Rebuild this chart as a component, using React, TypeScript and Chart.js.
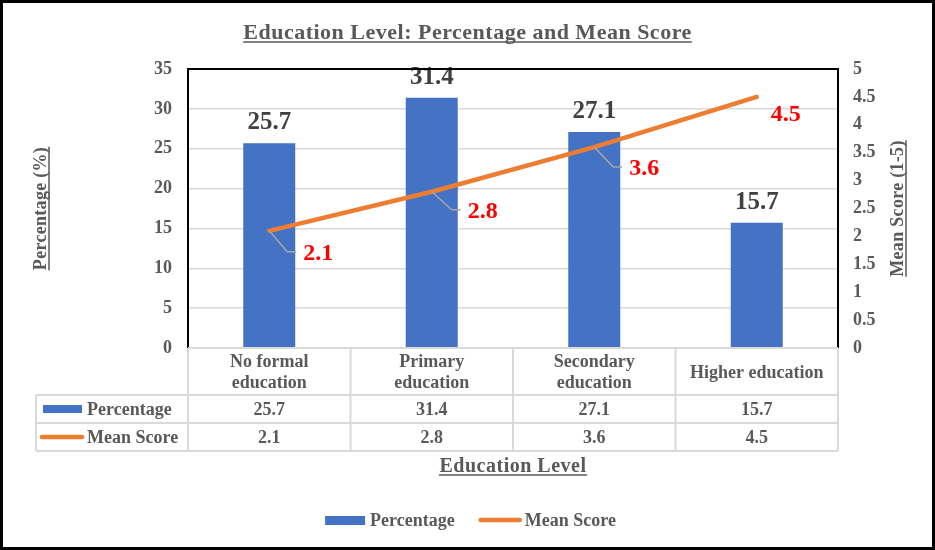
import React, { useEffect, useRef } from 'react';
import { Chart, registerables } from 'chart.js';

Chart.register(...registerables);

const categories = [['No formal', 'education'], ['Primary', 'education'], ['Secondary', 'education'], ['Higher education']];
const percentage = [25.7, 31.4, 27.1, 15.7];
const meanScore = [2.1, 2.8, 3.6, 4.5];
const percentTicks = [0, 5, 10, 15, 20, 25, 30, 35];
const scoreTicks = [0, 0.5, 1, 1.5, 2, 2.5, 3, 3.5, 4, 4.5, 5];

const FONT = "'Liberation Serif', 'Times New Roman', serif";
const BLUE = '#4472C4';
const ORANGE = '#ED7D31';
const GREY_TEXT = '#595959';
const DARK_TEXT = '#404040';
const GRID = '#D9D9D9';

// where the red labels sit relative to their point (the last one has no leader line)
const scoreLabelShift = [
  { dx: 34, dy: 21, leader: true },
  { dx: 36, dy: 18, leader: true },
  { dx: 35, dy: 20, leader: true },
  { dx: 14, dy: 16, leader: false },
];

const font = (size: number) => `bold ${size}px ${FONT}`;

const underlinedText = (ctx: any, text: string, x: number, y: number, size: number, spacing = 0) => {
  ctx.font = font(size);
  ctx.letterSpacing = `${spacing}px`;
  ctx.fillStyle = GREY_TEXT;
  ctx.textAlign = 'center';
  ctx.textBaseline = 'alphabetic';
  ctx.fillText(text, x, y);
  const w = ctx.measureText(text).width;
  ctx.letterSpacing = '0px';
  ctx.strokeStyle = GREY_TEXT;
  ctx.lineWidth = 1.5;
  ctx.beginPath();
  ctx.moveTo(x - w / 2, y + 3);
  ctx.lineTo(x + w / 2, y + 3);
  ctx.stroke();
};

const decorPlugin = {
  id: 'decor',
  beforeDraw(chart: any) {
    const ctx = chart.ctx;
    ctx.save();
    ctx.fillStyle = '#ffffff';
    ctx.fillRect(0, 0, chart.width, chart.height);
    ctx.restore();
  },
  afterDatasetsDraw(chart: any) {
    const ctx: CanvasRenderingContext2D = chart.ctx;
    ctx.save();
    // bar value labels
    const bars = chart.getDatasetMeta(0).data;
    ctx.font = font(25);
    ctx.fillStyle = DARK_TEXT;
    ctx.textAlign = 'center';
    ctx.textBaseline = 'alphabetic';
    bars.forEach((b: any, i: number) => {
      ctx.fillText(String(percentage[i]), b.x, b.y - 14);
    });
    // line value labels with leader lines
    const pts = chart.getDatasetMeta(1).data;
    pts.forEach((p: any, i: number) => {
      const s = scoreLabelShift[i];
      if (s.leader) {
        ctx.strokeStyle = '#A6A6A6';
        ctx.lineWidth = 1.5;
        ctx.beginPath();
        ctx.moveTo(p.x, p.y);
        ctx.lineTo(p.x + s.dx - 16, p.y + s.dy);
        ctx.lineTo(p.x + s.dx - 7, p.y + s.dy);
        ctx.stroke();
      }
      ctx.font = font(24);
      ctx.fillStyle = '#FF0000';
      ctx.textAlign = 'left';
      ctx.textBaseline = 'alphabetic';
      ctx.fillText(String(meanScore[i]), p.x + s.dx, p.y + s.dy + 8);
    });
    ctx.restore();
  },
  afterDraw(chart: any) {
    const ctx: CanvasRenderingContext2D = chart.ctx;
    const { left, right, top, bottom } = chart.chartArea;
    ctx.save();

    // plot frame (left, top, right)
    ctx.strokeStyle = '#000000';
    ctx.lineWidth = 2;
    ctx.beginPath();
    ctx.moveTo(left, bottom);
    ctx.lineTo(left, top);
    ctx.lineTo(right, top);
    ctx.lineTo(right, bottom);
    ctx.stroke();

    // title and axis titles
    underlinedText(ctx, 'Education Level: Percentage and Mean Score', chart.width / 2, 39, 22, 0.5);
    ctx.save();
    ctx.translate(46, (top + bottom) / 2);
    ctx.rotate(-Math.PI / 2);
    underlinedText(ctx, 'Percentage (%)', 0, 0, 18, 0.3);
    ctx.restore();
    ctx.save();
    ctx.translate(903, (top + bottom) / 2);
    ctx.rotate(-Math.PI / 2);
    underlinedText(ctx, 'Mean Score (1-5)', 0, 0, 18, 0.3);
    ctx.restore();

    // data table
    const n = categories.length;
    const colW = (right - left) / n;
    const tableLeft = 36;
    const headerBottom = bottom + 47;
    const row1Bottom = headerBottom + 28;
    const row2Bottom = row1Bottom + 28;
    ctx.strokeStyle = GRID;
    ctx.lineWidth = 2;
    ctx.beginPath();
    ctx.moveTo(left, bottom);
    ctx.lineTo(right, bottom);
    [headerBottom, row1Bottom, row2Bottom].forEach((y) => {
      ctx.moveTo(tableLeft, y);
      ctx.lineTo(right, y);
    });
    ctx.moveTo(tableLeft, headerBottom);
    ctx.lineTo(tableLeft, row2Bottom);
    for (let i = 0; i <= n; i++) {
      ctx.moveTo(left + i * colW, bottom);
      ctx.lineTo(left + i * colW, row2Bottom);
    }
    ctx.stroke();

    const xs = chart.scales.x;
    ctx.font = font(18);
    ctx.fillStyle = GREY_TEXT;
    ctx.textAlign = 'center';
    ctx.textBaseline = 'alphabetic';
    const cap = 6;
    categories.forEach((lines, i) => {
      const cx = xs.getPixelForValue(i);
      const cy = (bottom + headerBottom) / 2;
      lines.forEach((ln, j) => {
        const y = cy + (j - (lines.length - 1) / 2) * 21 + cap;
        ctx.fillText(ln, cx, y);
      });
      ctx.fillText(String(percentage[i]), cx, (headerBottom + row1Bottom) / 2 + cap);
      ctx.fillText(String(meanScore[i]), cx, (row1Bottom + row2Bottom) / 2 + cap);
    });
    // row keys
    const r1 = (headerBottom + row1Bottom) / 2;
    const r2 = (row1Bottom + row2Bottom) / 2;
    ctx.fillStyle = BLUE;
    ctx.fillRect(43, r1 - 4, 39, 8);
    ctx.strokeStyle = ORANGE;
    ctx.lineWidth = 4.5;
    ctx.lineCap = 'round';
    ctx.beginPath();
    ctx.moveTo(42, r2);
    ctx.lineTo(82, r2);
    ctx.stroke();
    ctx.fillStyle = GREY_TEXT;
    ctx.textAlign = 'left';
    ctx.fillText(chart.data.datasets[0].label, 87, r1 + cap);
    ctx.fillText(chart.data.datasets[1].label, 87, r2 + cap);

    // x axis title
    underlinedText(ctx, 'Education Level', (left + right) / 2, 472, 20, 0.5);

    // legend
    ctx.font = font(18);
    const t1 = chart.data.datasets[0].label;
    const t2 = chart.data.datasets[1].label;
    const w1 = ctx.measureText(t1).width;
    const w2 = ctx.measureText(t2).width;
    const total = 40 + 5 + w1 + 24 + 43 + 3 + w2;
    let lx = (chart.width - total) / 2 + 3;
    const ly = 520;
    ctx.fillStyle = BLUE;
    ctx.fillRect(lx, ly - 4, 40, 9);
    lx += 45;
    ctx.fillStyle = GREY_TEXT;
    ctx.textAlign = 'left';
    ctx.fillText(t1, lx, ly + cap);
    lx += w1 + 24;
    ctx.strokeStyle = ORANGE;
    ctx.lineWidth = 4.5;
    ctx.lineCap = 'round';
    ctx.beginPath();
    ctx.moveTo(lx + 2, ly);
    ctx.lineTo(lx + 41, ly);
    ctx.stroke();
    lx += 46;
    ctx.fillText(t2, lx, ly + cap);

    // outer frame
    ctx.strokeStyle = '#000000';
    ctx.lineWidth = 3;
    ctx.lineCap = 'butt';
    ctx.strokeRect(1.5, 1.5, chart.width - 3, chart.height - 3);
    ctx.restore();
  },
};

const App: React.FC = () => {
  const canvasRef = useRef<HTMLCanvasElement | null>(null);

  useEffect(() => {
    document.body.style.margin = '0';
    if (!canvasRef.current) return;
    const ctx = canvasRef.current.getContext('2d');
    if (!ctx) return;

    const chart = new Chart(ctx, {
      type: 'bar',
      data: {
        labels: categories,
        datasets: [
          {
            type: 'bar',
            label: 'Percentage',
            data: percentage,
            backgroundColor: BLUE,
            barPercentage: 0.32,
            categoryPercentage: 1,
            yAxisID: 'y',
            order: 1,
          },
          {
            type: 'line',
            label: 'Mean Score',
            data: meanScore,
            borderColor: ORANGE,
            borderWidth: 4.5,
            borderCapStyle: 'round',
            pointRadius: 0,
            tension: 0,
            yAxisID: 'y1',
            order: 0,
          },
        ] as any,
      },
      options: {
        responsive: false,
        animation: false,
        layout: { padding: { top: 69, bottom: 202, left: 0, right: 0 } },
        plugins: {
          legend: { display: false },
          title: { display: false },
          tooltip: { enabled: false },
        },
        scales: {
          x: { display: false, offset: true },
          y: {
            position: 'left',
            min: 0,
            max: 35,
            afterFit: (s: any) => { s.width = 188; },
            afterBuildTicks: (s: any) => { s.ticks = percentTicks.map((v) => ({ value: v })); },
            ticks: { padding: 16, color: GREY_TEXT, font: { family: FONT, size: 18, weight: 'bold' }, callback: (v: any) => String(v) },
            grid: { color: GRID, lineWidth: 1.5, drawTicks: false },
            border: { display: false },
          },
          y1: {
            position: 'right',
            min: 0,
            max: 5,
            afterFit: (s: any) => { s.width = 97; },
            afterBuildTicks: (s: any) => { s.ticks = scoreTicks.map((v) => ({ value: v })); },
            ticks: { padding: 15, color: GREY_TEXT, font: { family: FONT, size: 18, weight: 'bold' }, callback: (v: any) => String(v) },
            grid: { display: false, drawTicks: false },
            border: { display: false },
          },
        },
      } as any,
      plugins: [decorPlugin],
    });

    return () => {
      chart.destroy();
    };
  }, []);

  return (
    <div style={{ width: 935, height: 550 }}>
      <canvas ref={canvasRef} width={935} height={550} style={{ display: 'block' }} />
    </div>
  );
};

export default App;
